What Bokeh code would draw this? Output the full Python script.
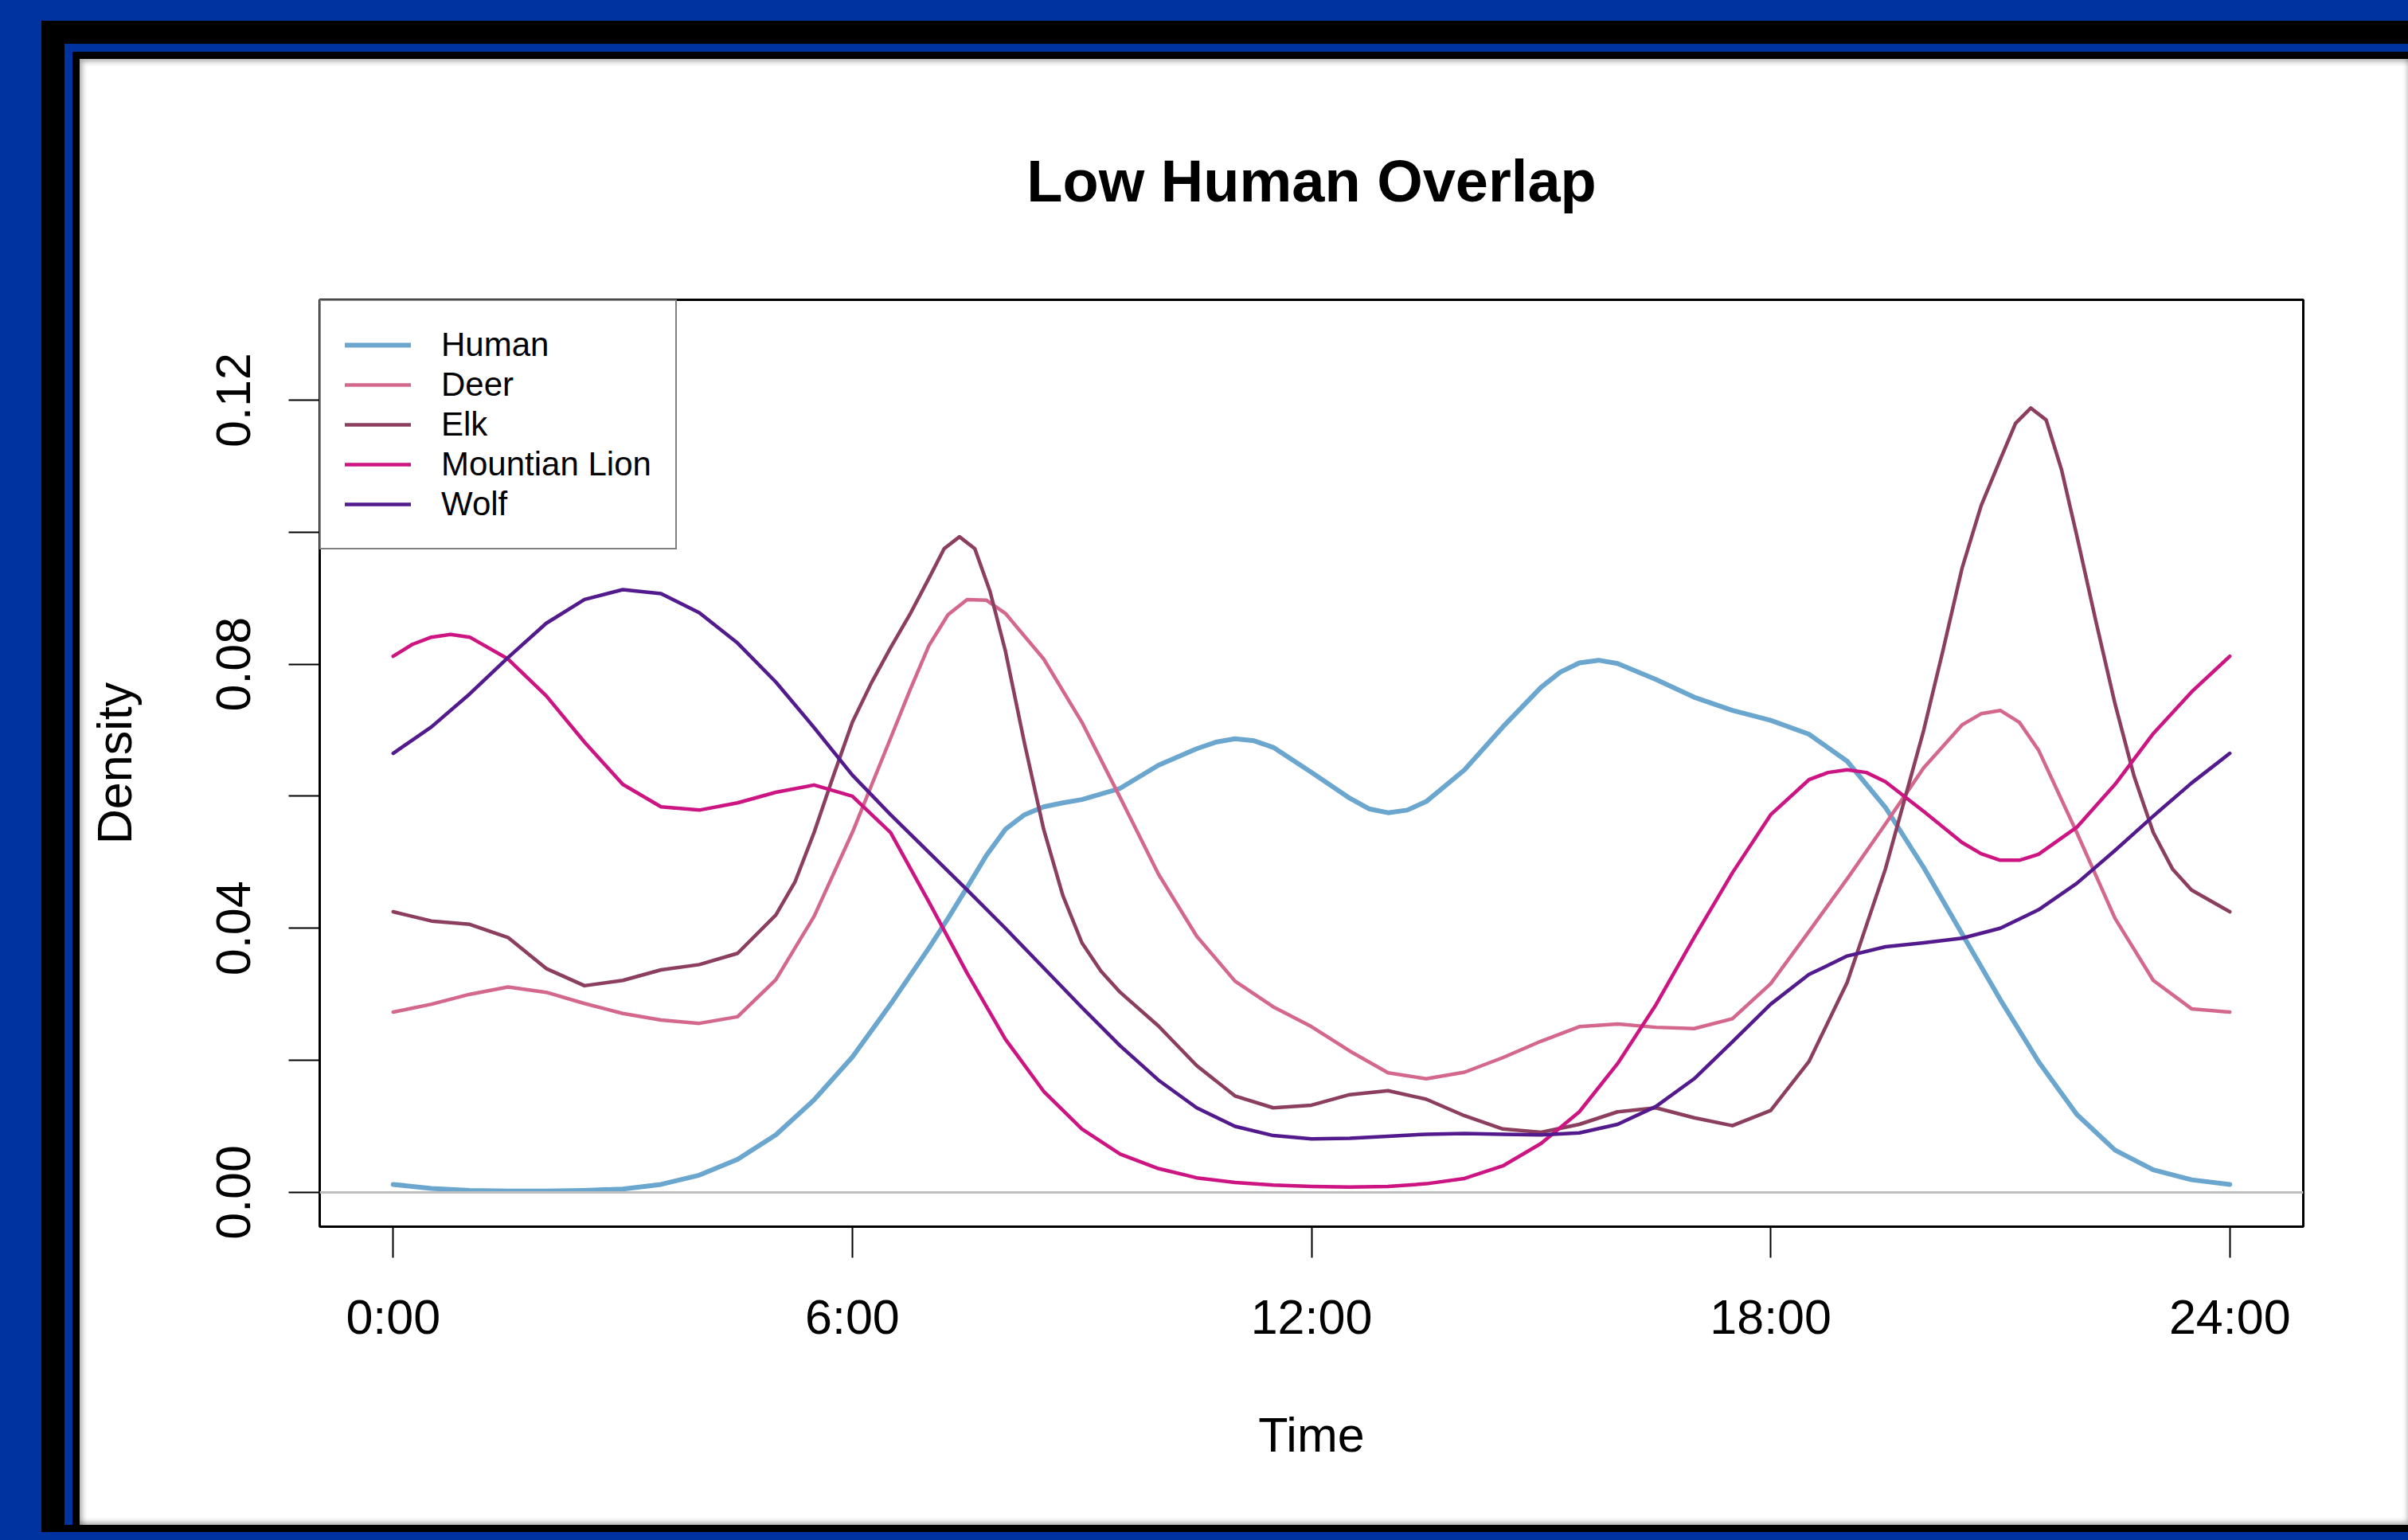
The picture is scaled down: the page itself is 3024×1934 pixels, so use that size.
from bokeh.plotting import figure
from bokeh.models import (Range1d, FixedTicker, NumeralTickFormatter, Legend, LegendItem, Span)
from bokeh.embed import file_html
from bokeh.resources import INLINE

# ---------------- data ----------------
human_h = [0, 0.5, 1, 1.5, 2, 2.5, 3, 3.5, 4, 4.5, 5, 5.5, 6, 6.5, 7, 7.25, 7.5, 7.75, 8, 8.25,
           8.5, 8.75, 9, 9.5, 10, 10.5, 10.75, 11, 11.25, 11.5, 12, 12.5, 12.75, 13, 13.25, 13.5,
           14, 14.5, 15, 15.25, 15.5, 15.75, 16, 16.5, 17, 17.5, 18, 18.5, 19, 19.5, 20, 20.5,
           21, 21.5, 22, 22.5, 23, 23.5, 24]
human = [0.0012, 0.0006, 0.0003, 0.0002, 0.0002, 0.0003, 0.0005, 0.0012, 0.0026, 0.0050,
         0.0087, 0.0140, 0.0205, 0.0285, 0.0370, 0.0415, 0.0462, 0.0510, 0.0550, 0.0572,
         0.0584, 0.0590, 0.0595, 0.0612, 0.0647, 0.0672, 0.0682, 0.0687, 0.0684, 0.0674,
         0.0636, 0.0597, 0.0581, 0.0575, 0.0579, 0.0592, 0.0640, 0.0705, 0.0765, 0.0788,
         0.0802, 0.0806, 0.0801, 0.0777, 0.0750, 0.0730, 0.0715, 0.0694, 0.0653, 0.0583,
         0.0492, 0.0392, 0.0292, 0.0198, 0.0118, 0.0064, 0.0034, 0.0019, 0.0012]

deer_h = [0, 0.5, 1, 1.5, 2, 2.5, 3, 3.5, 4, 4.5, 5, 5.5, 6, 6.5, 6.75, 7, 7.25, 7.5, 7.75, 8,
          8.5, 9, 9.5, 10, 10.5, 11, 11.5, 12, 12.5, 13, 13.5, 14, 14.5, 15, 15.5, 16, 16.5, 17,
          17.5, 18, 18.5, 19, 19.5, 20, 20.5, 20.75, 21, 21.25, 21.5, 22, 22.5, 23, 23.5, 24]
deer = [0.0273, 0.0285, 0.0300, 0.0311, 0.0303, 0.0286, 0.0271, 0.0261, 0.0256, 0.0266,
        0.0322, 0.0418, 0.0545, 0.0688, 0.0760, 0.0828, 0.0875, 0.0898, 0.0897, 0.0877,
        0.0808, 0.0712, 0.0598, 0.0482, 0.0388, 0.0320, 0.0281, 0.0251, 0.0214, 0.0181,
        0.0172, 0.0182, 0.0204, 0.0229, 0.0251, 0.0255, 0.0250, 0.0248, 0.0263, 0.0316,
        0.0395, 0.0475, 0.0558, 0.0643, 0.0708, 0.0725, 0.0730, 0.0712, 0.0670, 0.0545,
        0.0415, 0.0321, 0.0278, 0.0273]

elk_h = [0, 0.5, 1, 1.5, 2, 2.5, 3, 3.5, 4, 4.5, 5, 5.25, 5.5, 5.75, 6, 6.25, 6.5, 6.75, 7, 7.2,
         7.4, 7.6, 7.8, 8, 8.25, 8.5, 8.75, 9, 9.25, 9.5, 10, 10.5, 11, 11.5, 12, 12.5, 13, 13.5,
         14, 14.5, 15, 15.5, 16, 16.5, 17, 17.5, 18, 18.5, 19, 19.5, 20, 20.25, 20.5, 20.75, 21,
         21.2, 21.4, 21.6, 21.8, 22, 22.25, 22.5, 22.75, 23, 23.25, 23.5, 24]
elk = [0.0425, 0.0411, 0.0406, 0.0386, 0.0339, 0.0313, 0.0321, 0.0337, 0.0345, 0.0362, 0.0420,
       0.0470, 0.0545, 0.0630, 0.0712, 0.0772, 0.0825, 0.0875, 0.0930, 0.0975,
       0.0993, 0.0975, 0.0910, 0.0820, 0.0680, 0.0550, 0.0450, 0.0378, 0.0335, 0.0303,
       0.0252, 0.0192, 0.0146, 0.0128, 0.0132, 0.0148, 0.0154, 0.0141, 0.0116, 0.0096,
       0.0091, 0.0103, 0.0122, 0.0128, 0.0113, 0.0101, 0.0124, 0.0198, 0.0318, 0.0490,
       0.0700, 0.0820, 0.0945, 0.1040, 0.1110, 0.1165, 0.1188, 0.1170, 0.1095, 0.0995,
       0.0865, 0.0740, 0.0630, 0.0545, 0.0490, 0.0458, 0.0425]

lion_h = [0, 0.25, 0.5, 0.75, 1, 1.5, 2, 2.5, 3, 3.5, 4, 4.5, 5, 5.5, 6, 6.5, 7, 7.5, 8, 8.5,
          9, 9.5, 10, 10.5, 11, 11.5, 12, 12.5, 13, 13.5, 14, 14.5, 15, 15.5, 16, 16.5, 17, 17.5,
          18, 18.5, 18.75, 19, 19.25, 19.5, 20, 20.5, 20.75, 21, 21.25, 21.5, 22, 22.5, 23, 23.5, 24]
mountain_lion = [0.0812, 0.0830, 0.0841, 0.0845, 0.0841, 0.0808, 0.0752, 0.0682, 0.0618, 0.0584,
                 0.0579, 0.0590, 0.0606, 0.0617, 0.0600, 0.0545, 0.0440, 0.0332, 0.0232, 0.0153,
                 0.0096, 0.0058, 0.0036, 0.0022, 0.0015, 0.0011, 0.0009, 0.0008, 0.0009, 0.0013,
                 0.0021, 0.0040, 0.0074, 0.0122, 0.0195, 0.0284, 0.0386, 0.0484, 0.0572, 0.0625,
                 0.0636, 0.0640, 0.0636, 0.0622, 0.0577, 0.0530, 0.0513, 0.0503, 0.0503, 0.0512,
                 0.0553, 0.0618, 0.0695, 0.0758, 0.0812]

wolf_h = [i * 0.5 for i in range(49)]
wolf = [0.0665, 0.0705, 0.0755, 0.0810, 0.0862, 0.0898, 0.0913, 0.0907, 0.0878, 0.0832,
        0.0773, 0.0704, 0.0632, 0.0572, 0.0515, 0.0458, 0.0400, 0.0340, 0.0280, 0.0222,
        0.0170, 0.0128, 0.0100, 0.0086, 0.0081, 0.0082, 0.0085, 0.0088, 0.0089, 0.0088,
        0.0087, 0.0090, 0.0103, 0.0130, 0.0172, 0.0228, 0.0285, 0.0330, 0.0358, 0.0372,
        0.0378, 0.0385, 0.0400, 0.0428, 0.0468, 0.0518, 0.0570, 0.0620, 0.0665]

series_names = ["Human", "Deer", "Elk", "Mountian Lion", "Wolf"]
series_hours = [human_h, deer_h, elk_h, lion_h, wolf_h]
series_values = [human, deer, elk, mountain_lion, wolf]
series_colors = ["#6BA6CF", "#D4688C", "#8C3E5E", "#CC1482", "#521A8C"]
series_widths = [6, 4.5, 4.5, 4.5, 4.5]

x_ticks = [0, 6, 12, 18, 24]
x_tick_labels = ["0:00", "6:00", "12:00", "18:00", "24:00"]
y_major_ticks = [0.0, 0.04, 0.08, 0.12]
y_minor_ticks = [0.02, 0.06, 0.10]

title_text = "Low Human Overlap"
x_label = "Time"
y_label = "Density"

FONT = "Liberation Sans"
BLUE = "#0033A0"

# ---------------- figure ----------------
W, H = 3024, 1934
p = figure(width=W, height=H, output_backend="svg", toolbar_location=None,
           x_range=Range1d(-0.96, 24.96), y_range=Range1d(-0.0052, 0.1352),
           min_border_left=401, min_border_right=132, min_border_top=376, min_border_bottom=394)
p.background_fill_color = "white"
p.border_fill_color = None
p.outline_line_color = "black"
p.outline_line_width = 3
p.grid.visible = False

# slide-like frame around the white panel (CSS on the plot element)
p.styles = {
    "background-color": "white",
    "box-shadow": ", ".join([
        "inset 0 -10px 0 0 " + BLUE,
        "inset 52px 26px 0 0 " + BLUE,
        "inset 0 -19px 0 0 black",
        "inset 81px 55px 0 0 black",
        "inset 91px 65px 0 0 " + BLUE,
        "inset 100px 74px 0 0 black",
        "inset 103px 77px 7px 0 rgba(0,0,0,0.35)",
        "inset 0 -22px 7px 0 rgba(0,0,0,0.35)",
    ]),
}

# title
p.title.text = title_text
p.title.align = "center"
p.title.text_font = FONT
p.title.text_font_size = "74px"
p.title.text_font_style = "bold"
p.title.text_color = "black"
p.title.standoff = 216

# axes
xa = p.xaxis[0]
xa.ticker = FixedTicker(ticks=x_ticks)
xa.major_label_overrides = {t: l for t, l in zip(x_ticks, x_tick_labels)}
ya = p.yaxis[0]
ya.ticker = FixedTicker(ticks=y_major_ticks, minor_ticks=y_minor_ticks)
ya.formatter = NumeralTickFormatter(format="0.00")
ya.major_label_orientation = "vertical"

for ax in (xa, ya):
    ax.axis_line_color = None
    ax.major_tick_in = 0
    ax.major_tick_out = 39
    ax.major_tick_line_width = 2
    ax.major_tick_line_color = "black"
    ax.major_label_text_font = FONT
    ax.major_label_text_font_size = "61px"
    ax.major_label_text_color = "black"
    ax.axis_label_text_font = FONT
    ax.axis_label_text_font_size = "61px"
    ax.axis_label_text_font_style = "normal"
    ax.axis_label_text_color = "black"
xa.minor_tick_line_color = None
ya.minor_tick_in = 0
ya.minor_tick_out = 39
ya.minor_tick_line_width = 2
ya.minor_tick_line_color = "black"
xa.major_label_standoff = 40
ya.major_label_standoff = 48
xa.axis_label = x_label
ya.axis_label = y_label
xa.axis_label_standoff = 77
ya.axis_label_standoff = 92

# zero line
p.add_layout(Span(location=0, dimension="width", line_color="#BEBEBE", line_width=3))

# curves
items = []
for name, hrs, vals, col, lw in zip(series_names, series_hours, series_values,
                                    series_colors, series_widths):
    r = p.line(hrs, vals, line_color=col, line_width=lw, line_join="round", line_cap="round")
    items.append(LegendItem(label=name, renderers=[r]))

legend = Legend(items=items, location="top_left", margin=0, padding=30, spacing=0,
                label_height=50, glyph_height=50, glyph_width=83, label_standoff=38,
                label_text_font=FONT, label_text_font_size="42px", label_text_color="black",
                border_line_color="black", border_line_width=2.5,
                background_fill_color="white", background_fill_alpha=1.0)
p.add_layout(legend)

open("out.html", "w").write(file_html(p, INLINE))
